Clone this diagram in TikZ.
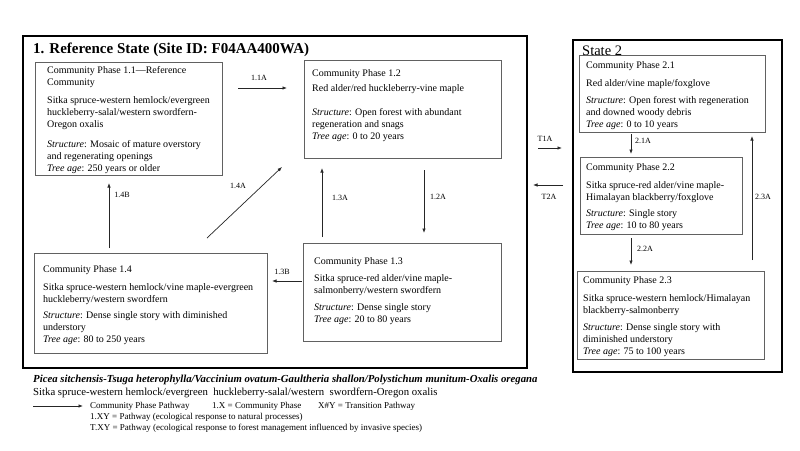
\documentclass[tikz,border=0pt]{standalone}
\usepackage{fontspec}
\setmainfont{Liberation Serif}
\usetikzlibrary{arrows.meta}
\newcommand{\StrLbl}{\textit{Structure}:}
\newcommand{\AgeLbl}{\textit{Tree age}:}
\begin{document}
\begin{tikzpicture}[x=1pt,y=-1pt,
  frame/.style={draw=black, line width=1.8pt},
  phbox/.style={draw=black!62, line width=0.8pt, anchor=north west, inner sep=0pt},
  phtxt/.style={anchor=north west, inner sep=0pt, align=left, font=\fontsize{10}{12}\selectfont},
  lbl/.style={inner sep=0pt, font=\fontsize{8}{9.6}\selectfont},
  legtxt/.style={inner sep=0pt, anchor=west, font=\fontsize{9}{10.8}\selectfont},
  arr/.style={draw=black!85, line width=0.7pt, -{Latex[length=4.5pt,width=3.4pt]}}]
\fill[white] (0,0) rectangle (800,450);
\useasboundingbox (0,0) rectangle (800,450);

% state frames
\node[frame, anchor=north west, inner sep=0pt, minimum width=504pt, minimum height=332pt] (s1) at (22,35) {};
\node[frame, anchor=north west, inner sep=0pt, minimum width=209pt, minimum height=332pt] (s2) at (572,39) {};
\node[anchor=base west, inner sep=0pt, font=\fontsize{15}{18}\selectfont\bfseries] (s1t) at (33,53) {1. Reference State (Site ID: F04AA400WA)};
\node[anchor=base west, inner sep=0pt, font=\fontsize{14.5}{17}\selectfont] (s2t) at (582,55.5) {State 2};

% phase boxes
\node[phbox, minimum width=187pt, minimum height=113pt] (p11) at (35,62) {};
\node[phbox, minimum width=197pt, minimum height=98pt] (p12) at (304,60) {};
\node[phbox, minimum width=198pt, minimum height=98pt] (p13) at (303,243) {};
\node[phbox, minimum width=233pt, minimum height=100pt] (p14) at (34,253) {};
\node[phbox, minimum width=186pt, minimum height=77pt] (p21) at (579,55) {};
\node[phbox, minimum width=162pt, minimum height=77pt] (p22) at (580,157) {};
\node[phbox, minimum width=187pt, minimum height=88pt] (p23) at (577,271) {};

% phase texts
\node[phtxt] (p11t) at (47,66) {Community Phase 1.1—Reference\\Community\\[6pt]
Sitka spruce-western hemlock/evergreen\\huckleberry-salal/western swordfern-\\Oregon oxalis\\[8pt]
\StrLbl{} Mosaic of mature overstory\\and regenerating openings\\\AgeLbl{} 250 years or older};
\node[phtxt] (p12t) at (312,69) {Community Phase 1.2\\[3pt]
Red alder/red huckleberry-vine maple\\[12pt]
\StrLbl{} Open forest with abundant\\regeneration and snags\\\AgeLbl{} 0 to 20 years};
\node[phtxt] (p13t) at (314,257) {Community Phase 1.3\\[5pt]
Sitka spruce-red alder/vine maple-\\salmonberry/western swordfern\\[5pt]
\StrLbl{} Dense single story\\\AgeLbl{} 20 to 80 years};
\node[phtxt] (p14t) at (43,265) {Community Phase 1.4\\[6pt]
Sitka spruce-western hemlock/vine maple-evergreen\\huckleberry/western swordfern\\[4pt]
\StrLbl{} Dense single story with diminished\\understory\\\AgeLbl{} 80 to 250 years};
\node[phtxt] (p21t) at (586,61) {Community Phase 2.1\\[6pt]
Red alder/vine maple/foxglove\\[5pt]
\StrLbl{} Open forest with regeneration\\and downed woody debris\\\AgeLbl{} 0 to 10 years};
\node[phtxt] (p22t) at (586,163) {Community Phase 2.2\\[6pt]
Sitka spruce-red alder/vine maple-\\Himalayan blackberry/foxglove\\[4pt]
\StrLbl{} Single story\\\AgeLbl{} 10 to 80 years};
\node[phtxt] (p23t) at (583,276) {Community Phase 2.3\\[6pt]
Sitka spruce-western hemlock/Himalayan\\blackberry-salmonberry\\[5pt]
\StrLbl{} Dense single story with\\diminished understory\\\AgeLbl{} 75 to 100 years};

% connector end points
\coordinate (a11s) at (238,88);  \coordinate (a11e) at (287,88);
\coordinate (a12s) at (424,170); \coordinate (a12e) at (424,233);
\coordinate (a13s) at (322,237); \coordinate (a13e) at (322,168);
\coordinate (b13s) at (302,281); \coordinate (b13e) at (272,281);
\coordinate (a14s) at (207,238); \coordinate (a14e) at (282,167);
\coordinate (b14s) at (109,248); \coordinate (b14e) at (109,183);
\coordinate (t1s) at (538,148);  \coordinate (t1e) at (562,148);
\coordinate (t2s) at (563,185);  \coordinate (t2e) at (533,185);
\coordinate (a21s) at (631,134); \coordinate (a21e) at (631,154);
\coordinate (a22s) at (631,238); \coordinate (a22e) at (631,265);
\coordinate (a23s) at (752,260); \coordinate (a23e) at (752,136);

\draw[arr] (a11s) -- (a11e);
\draw[arr] (a12s) -- (a12e);
\draw[arr] (a13s) -- (a13e);
\draw[arr] (b13s) -- (b13e);
\draw[arr] (a14s) -- (a14e);
\draw[arr] (b14s) -- (b14e);
\draw[arr] (t1s) -- (t1e);
\draw[arr] (t2s) -- (t2e);
\draw[arr] (a21s) -- (a21e);
\draw[arr] (a22s) -- (a22e);
\draw[arr] (a23s) -- (a23e);

% labels
\node[lbl] (l11) at (259,78) {1.1A};
\node[lbl] (l12) at (438,197) {1.2A};
\node[lbl] (l13) at (340,198) {1.3A};
\node[lbl] (l13b) at (282,272) {1.3B};
\node[lbl] (l14) at (238,186) {1.4A};
\node[lbl] (l14b) at (122,195) {1.4B};
\node[lbl] (lt1) at (545,139) {T1A};
\node[lbl] (lt2) at (549,197) {T2A};
\node[lbl] (l21) at (643,141) {2.1A};
\node[lbl] (l22) at (645,249) {2.2A};
\node[lbl] (l23) at (763,197) {2.3A};

% species lines
\node[anchor=base west, inner sep=0pt, font=\fontsize{10.75}{12}\selectfont\bfseries\itshape] (sp1) at (33,382) {Picea sitchensis-Tsuga heterophylla/Vaccinium ovatum-Gaultheria shallon/Polystichum munitum-Oxalis oregana};
\node[anchor=base west, inner sep=0pt, font=\fontsize{10.75}{12}\selectfont] (sp2) at (33,395) {Sitka spruce-western hemlock/evergreen\ \ huckleberry-salal/western\ \ swordfern-Oregon oxalis};

% legend
\coordinate (lgs) at (33,406); \coordinate (lge) at (83,406);
\draw[arr] (lgs) -- (lge);
\node[legtxt] (lg1) at (90,406) {Community Phase Pathway};
\node[legtxt] (lg2) at (212,406) {1.X = Community Phase};
\node[legtxt] (lg3) at (318,406) {X\#Y = Transition Pathway};
\node[legtxt] (lg4) at (90,417) {1.XY = Pathway (ecological response to natural processes)};
\node[legtxt] (lg5) at (90,428) {T.XY = Pathway (ecological response to forest management influenced by invasive species)};
\end{tikzpicture}
\end{document}
